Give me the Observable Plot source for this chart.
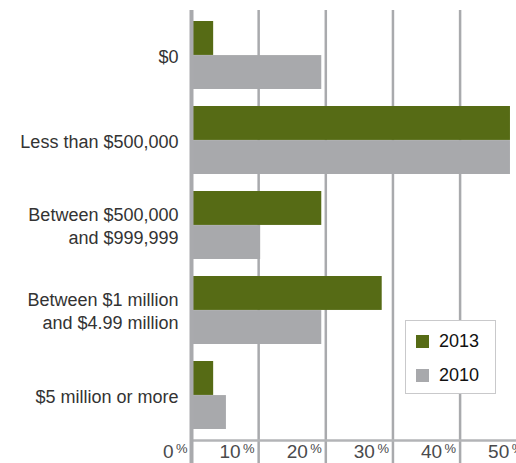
<!DOCTYPE html>
<html>
<head>
<meta charset="utf-8">
<script src="https://cdn.jsdelivr.net/npm/d3@7"></script>
<script src="https://cdn.jsdelivr.net/npm/@observablehq/plot@0.6"></script>
<style>
  html, body { margin: 0; padding: 0; background: #fff; overflow: hidden; }
  #wrap { position: relative; width: 516px; height: 463px; }
  #legend {
    position: absolute; left: 405px; top: 320px; width: 91px; height: 74px;
    border: 1px solid #c9c9cb; background: #fff; box-sizing: border-box;
    font-family: "Liberation Sans", Arial, Helvetica, sans-serif; font-size: 18px; color: #111;
  }
  .item { position: absolute; left: 10px; height: 20px; line-height: 20px; }
  .sw { display: inline-block; width: 13px; height: 13px; vertical-align: -1px; margin-right: 10px; }
</style>
</head>
<body>
<div id="wrap"></div>
<script>
const categories = ["$0", "Less than $500,000", "Between $500,000\nand $999,999", "Between $1 million\nand $4.99 million", "$5 million or more"];
const values2013 = [3.3, 47.5, 19.4, 28.4, 3.3];
const values2010 = [19.4, 47.5, 10.3, 19.4, 5.2];
const xTicks = [0, 10, 20, 30, 40, 50];
const seriesNames = ["2013", "2010"];
const seriesColors = ["#566b15", "#a8a9ac"];

const W = 516, H = 463, mt = 10, mb = 23, ml = 191, mr = 0;
const padIn = 0.2, padOut = 0.124;
const step = (H - mt - mb) / (categories.length - padIn + 2 * padOut);
const half = step * (1 - padIn) / 2;

const rows2013 = categories.map((c, i) => ({cat: c, v: values2013[i]}));
const rows2010 = categories.map((c, i) => ({cat: c, v: values2010[i]}));
const grid = "#a9aaad";
const font = "'Liberation Sans', Arial, Helvetica, sans-serif";

const chart = Plot.plot({
  width: W, height: H,
  marginTop: mt, marginBottom: mb, marginLeft: ml, marginRight: mr,
  style: {fontFamily: font, fontSize: "18px", color: "#333", background: "#fff", overflow: "hidden"},
  x: {domain: [0, 48.4], axis: null},
  y: {domain: categories, type: "band", paddingInner: padIn, paddingOuter: padOut, label: null},
  marks: [
    Plot.ruleX(xTicks.slice(1), {stroke: grid, strokeWidth: 2.5, insetBottom: -mb}),
    Plot.barX(rows2013, {y: "cat", x: "v", fill: seriesColors[0], insetBottom: half}),
    Plot.barX(rows2010, {y: "cat", x: "v", fill: seriesColors[1], insetTop: half}),
    Plot.frame({anchor: "bottom", stroke: "#b3b4b7", strokeWidth: 2.5}),
    Plot.ruleX([0], {stroke: grid, strokeWidth: 4, insetBottom: -mb}),
    Plot.axisY({tickSize: 0, tickPadding: 13, fontSize: 18, lineHeight: 1.28, fill: "#333", label: null}),
    Plot.text(xTicks, {x: d => d, text: d => String(d), frameAnchor: "bottom", textAnchor: "end", dx: -18, dy: 17, lineAnchor: "bottom", fontSize: 19, fill: "#4a4a4c"}),
    Plot.text(xTicks, {x: d => d, text: d => "%", frameAnchor: "bottom", textAnchor: "end", dx: -4, dy: 12, lineAnchor: "bottom", fontSize: 13, fill: "#4a4a4c"})
  ]
});
document.getElementById("wrap").appendChild(chart);

const legend = document.createElement("div");
legend.id = "legend";
seriesNames.forEach((name, i) => {
  const it = document.createElement("div");
  it.className = "item";
  it.style.top = (i === 0 ? 10 : 44) + "px";
  it.innerHTML = `<span class="sw" style="background:${seriesColors[i]}"></span>${name}`;
  legend.appendChild(it);
});
document.getElementById("wrap").appendChild(legend);
</script>
</body>
</html>
